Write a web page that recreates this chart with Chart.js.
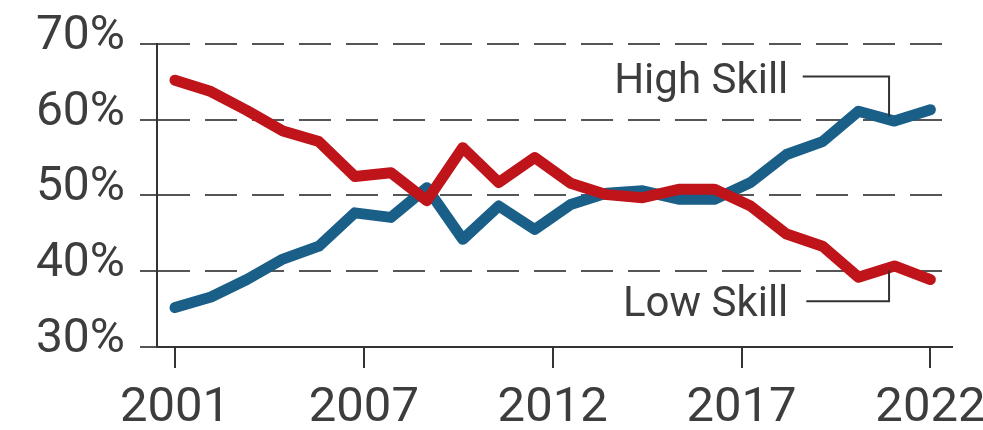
<!DOCTYPE html>
<html>
<head>
<meta charset="utf-8">
<script src="https://cdn.jsdelivr.net/npm/chart.js@4.4.1/dist/chart.umd.min.js"></script>
<style>
  html, body { margin: 0; padding: 0; background: #fff; }
  #wrap { width: 983px; height: 430px; }
</style>
</head>
<body>
<div id="wrap"><canvas id="chart"></canvas></div>
<script>
const years = [2001, 2002, 2003, 2004, 2005, 2006, 2007, 2008, 2009, 2010, 2011,
  2012, 2013, 2014, 2015, 2016, 2017, 2018, 2019, 2020, 2021, 2022];
const highSkill = [35.2, 36.6, 38.9, 41.6, 43.3, 47.7, 47.1, 51.0, 44.2, 48.6, 45.5,
  48.8, 50.3, 50.6, 49.5, 49.5, 51.7, 55.4, 57.1, 61.1, 59.8, 61.3];
const lowSkill = [65.2, 63.7, 61.2, 58.5, 57.1, 52.5, 53.0, 49.3, 56.3, 51.7, 55.0,
  51.6, 50.1, 49.7, 50.8, 50.8, 48.6, 44.9, 43.3, 39.2, 40.7, 38.9];
const xTickLabels = ["2001", "2007", "2012", "2017", "2022"];
const yTicks = [30, 40, 50, 60, 70];

const toPoints = (vals) => vals.map((v, i) => ({ x: years[i], y: v }));

const textColor = "#3d3d3d";
const gridColor = "#555";

// labels with bent leader lines, placed in data units
const labelPlugin = {
  id: "seriesLabels",
  afterDatasetsDraw(chart) {
    const { ctx, scales: { x, y } } = chart;
    ctx.save();
    ctx.font = "42px Roboto";
    ctx.fillStyle = textColor;
    ctx.textAlign = "right";
    ctx.textBaseline = "alphabetic";
    ctx.fillText("High Skill", x.getPixelForValue(2018.05), y.getPixelForValue(63.55));
    ctx.fillText("Low Skill", x.getPixelForValue(2018.05), y.getPixelForValue(34.1));

    ctx.strokeStyle = "#333";
    ctx.lineWidth = 2;
    const bendX = x.getPixelForValue(2020.85);

    ctx.beginPath();
    ctx.moveTo(x.getPixelForValue(2018.45), y.getPixelForValue(65.7));
    ctx.lineTo(bendX, y.getPixelForValue(65.7));
    ctx.lineTo(bendX, y.getPixelForValue(60.4));
    ctx.stroke();

    ctx.beginPath();
    ctx.moveTo(x.getPixelForValue(2018.55), y.getPixelForValue(36.05));
    ctx.lineTo(bendX, y.getPixelForValue(36.05));
    ctx.lineTo(bendX, y.getPixelForValue(40.1));
    ctx.stroke();
    ctx.restore();
  }
};

new Chart(document.getElementById("chart"), {
  type: "line",
  data: {
    datasets: [
      {
        label: "Low Skill",
        data: toPoints(lowSkill),
        borderColor: "#c0141b",
        borderWidth: 11,
        pointRadius: 0,
        borderCapStyle: "round",
        borderJoinStyle: "round",
        tension: 0,
      },
      {
        label: "High Skill",
        data: toPoints(highSkill),
        borderColor: "#1a5f88",
        borderWidth: 11,
        pointRadius: 0,
        borderCapStyle: "round",
        borderJoinStyle: "round",
        tension: 0,
      },
    ],
  },
  options: {
    responsive: true,
    maintainAspectRatio: false,
    animation: false,
    layout: { padding: { top: 43, right: 31, left: 0, bottom: 0 } },
    plugins: {
      legend: { display: false },
      tooltip: { enabled: false },
    },
    scales: {
      x: {
        type: "linear",
        min: 2000.5,
        max: 2022.6,
        afterBuildTicks: (scale) => {
          // four equal steps between first and last year
          const step = (years[years.length - 1] - years[0]) / (xTickLabels.length - 1);
          scale.ticks = xTickLabels.map((_, i) => ({ value: years[0] + i * step }));
        },
        afterFit: (scale) => {
          scale.height = 83;
          scale.paddingLeft = 0;
          scale.paddingRight = 0;
        },
        ticks: {
          callback: (val, i) => xTickLabels[i],
          color: textColor,
          font: { family: "Roboto", size: 49 },
          padding: 11,
          maxRotation: 0,
          autoSkip: false,
        },
        grid: {
          drawOnChartArea: false,
          drawTicks: true,
          tickLength: 21,
          color: "#333",
          lineWidth: 2,
        },
        border: { display: true, color: "#333", width: 2 },
      },
      y: {
        min: 30,
        max: 70,
        afterBuildTicks: (scale) => {
          scale.ticks = yTicks.map((v) => ({ value: v }));
        },
        afterFit: (scale) => { scale.width = 157; },
        ticks: {
          callback: (v) => v + "%",
          color: textColor,
          font: { family: "Roboto", size: 48 },
          padding: 15,
          labelOffset: -7,
        },
        grid: {
          color: gridColor,
          lineWidth: 2,
          tickLength: 17,
          tickBorderDash: [],
          drawTicks: true,
        },
        border: { display: true, color: "#333", width: 2, dash: [32, 15] },
      },
    },
  },
  plugins: [labelPlugin],
});
</script>
</body>
</html>
